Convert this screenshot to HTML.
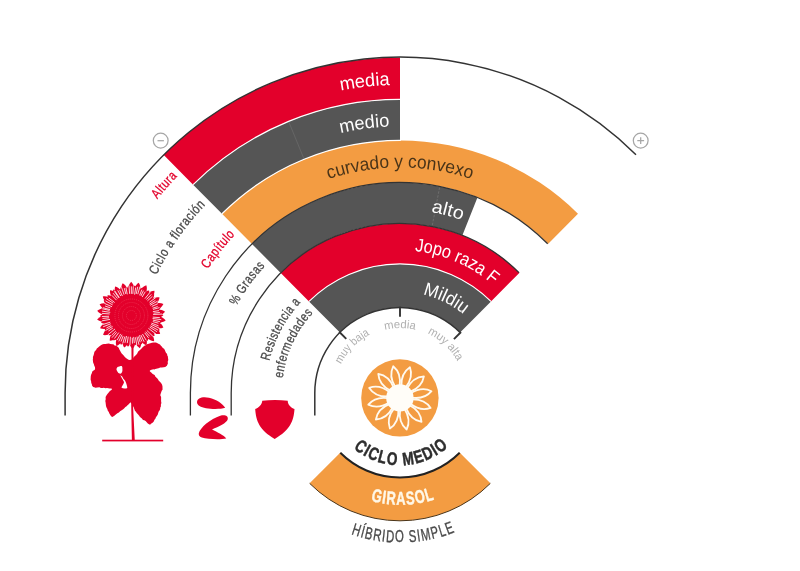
<!DOCTYPE html>
<html lang="es"><head><meta charset="utf-8"><title>Girasol</title>
<style>
html,body{margin:0;padding:0;background:#fff}
body{width:800px;height:571px;overflow:hidden;font-family:"Liberation Sans",sans-serif}
svg{display:block}
</style></head><body>
<svg width="800" height="571" viewBox="0 0 800 571">
<defs>
<path id="t1" d="M340.66 90.57A308.2 308.2 0 0 1 389.78 84.97"/>
<path id="t2" d="M340.46 133.03A266.7 266.7 0 0 1 389.53 126.51"/>
<path id="t3" d="M328.63 179.09A225.5 225.5 0 0 1 471.37 179.09"/>
<path id="t4" d="M431.04 212.15A183.5 183.5 0 0 1 461.86 220.24"/>
<path id="t5" d="M414.67 251.06A142.7 142.7 0 0 1 492.87 284.65"/>
<path id="t6" d="M422.77 294.39A101.2 101.2 0 0 1 463.55 314.24"/>
<path id="t7" d="M157.26 199.22A310.6 310.6 0 0 1 177.66 176.12"/>
<path id="t8" d="M156.46 275.27A270.5 270.5 0 0 1 205.75 204.75"/>
<path id="t9" d="M207.85 269.17A228.6 228.6 0 0 1 235.34 234.43"/>
<path id="t10" d="M236.48 306.05A185.2 185.2 0 0 1 265.32 265.87"/>
<path id="t11" d="M269.38 360.92A134.5 134.5 0 0 1 300.84 302.13"/>
<path id="t12" d="M282.73 378.19A118.2 118.2 0 0 1 313.18 312.79"/>
<path id="t13" d="M340.95 364.2A65.7 65.7 0 0 1 369.76 334.67"/>
<path id="t14" d="M384.83 329.8A65 65 0 0 1 415.17 329.8"/>
<path id="t15" d="M427.45 333.31A65.7 65.7 0 0 1 457.46 361.15"/>
<path id="t16" d="M353.53 448.39A72.3 72.3 0 0 0 448.95 446.21"/>
<path id="t17" d="M351.08 534.27A149.5 149.5 0 0 0 455.74 531.72"/>
<path id="t18" d="M370.88 500.94A111.8 111.8 0 0 0 435.17 499.13"/>
</defs>
<rect width="800" height="571" fill="#fff"/>
<path d="M163.52 154.87A335.6 335.6 0 0 1 400 57.4L400 99.4A293.6 293.6 0 0 0 193.12 184.67Z" fill="#e3002b" />
<path d="M193.12 184.67A293.6 293.6 0 0 1 400 99.4L400 140.4A252.6 252.6 0 0 0 222.01 213.76Z" fill="#555555" />
<path d="M222.01 213.76A252.6 252.6 0 0 1 577.99 213.76L548.26 243.71A210.4 210.4 0 0 0 251.74 243.71Z" fill="#f39c42" />
<path d="M251.74 243.71A210.4 210.4 0 0 1 477.45 197.38L462.43 235.31A169.6 169.6 0 0 0 280.49 272.66Z" fill="#555555" />
<path d="M280.49 272.66A169.6 169.6 0 0 1 519.51 272.66L490.97 301.39A129.1 129.1 0 0 0 309.03 301.39Z" fill="#e3002b" />
<path d="M309.03 301.39A129.1 129.1 0 0 1 490.97 301.39L460.32 332.26A85.6 85.6 0 0 0 339.68 332.26Z" fill="#555555" />
<line x1="288.97" y1="122.28" x2="303.77" y2="158.37" stroke="#6a6a6a" stroke-width="0.8" />
<line x1="439.6" y1="187.38" x2="432.26" y2="225.48" stroke="#787878" stroke-width="0.7" stroke-dasharray="2.5 1.5"/>
<path d="M193.12 184.67A293.6 293.6 0 0 1 401.02 99.4" fill="none" stroke="#ffffff" stroke-width="1.2" />
<path d="M222.01 213.76A252.6 252.6 0 0 1 400.88 140.4" fill="none" stroke="#ffffff" stroke-width="1.2" />
<path d="M309.03 301.39A129.1 129.1 0 0 1 490.97 301.39" fill="none" stroke="#ffffff" stroke-width="1.1" />
<path d="M65.1 415.6L65.1 393.0A334.9 335.90000000000003 0 0 1 635.98 154.66" fill="none" stroke="#333333" stroke-width="1.5"/>
<path d="M190.4 415.6L190.4 393.0A209.6 210.4 0 0 1 547.69 243.71" fill="none" stroke="#333333" stroke-width="1.3"/>
<path d="M231.2 415.6L231.2 393.0A168.8 169.6 0 0 1 518.94 272.66" fill="none" stroke="#333333" stroke-width="1.3"/>
<path d="M314.8 415.6L314.8 393.0A85.2 85.39999999999999 0 0 1 460.03 332.4" fill="none" stroke="#333333" stroke-width="1.5"/>
<line x1="339.19" y1="331.76" x2="346.24" y2="338.86" stroke="#333333" stroke-width="1.9" />
<line x1="400" y1="306.7" x2="400" y2="316.7" stroke="#333333" stroke-width="1.9" />
<line x1="461.02" y1="331.98" x2="453.95" y2="339.05" stroke="#333333" stroke-width="1.9" />
<text font-family='"Liberation Sans", sans-serif' font-size="18.4" font-weight="normal" fill="#ffffff"><textPath href="#t1" startOffset="0" textLength="49.49" lengthAdjust="spacingAndGlyphs">media</textPath></text>
<text font-family='"Liberation Sans", sans-serif' font-size="18.4" font-weight="normal" fill="#ffffff"><textPath href="#t2" startOffset="0" textLength="49.57" lengthAdjust="spacingAndGlyphs">medio</textPath></text>
<text font-family='"Liberation Sans", sans-serif' font-size="18.4" font-weight="normal" fill="#4a3418"><textPath href="#t3" startOffset="0" textLength="145.23" lengthAdjust="spacingAndGlyphs">curvado y convexo</textPath></text>
<text font-family='"Liberation Sans", sans-serif' font-size="18.4" font-weight="normal" fill="#ffffff"><textPath href="#t4" startOffset="0" textLength="31.9" lengthAdjust="spacingAndGlyphs">alto</textPath></text>
<text font-family='"Liberation Sans", sans-serif' font-size="18.4" font-weight="normal" fill="#ffffff"><textPath href="#t5" startOffset="0" textLength="86.42" lengthAdjust="spacingAndGlyphs">Jopo raza F</textPath></text>
<text font-family='"Liberation Sans", sans-serif' font-size="18.4" font-weight="normal" fill="#ffffff"><textPath href="#t6" startOffset="0" textLength="45.75" lengthAdjust="spacingAndGlyphs">Mildiu</textPath></text>
<text font-family='"Liberation Sans", sans-serif' font-size="13.5" font-weight="normal" fill="#e3002b" letter-spacing="0.6" stroke="#e3002b" stroke-width="0.3"><textPath href="#t7" startOffset="0" textLength="30.84" lengthAdjust="spacingAndGlyphs">Altura</textPath></text>
<text font-family='"Liberation Sans", sans-serif' font-size="13.5" font-weight="normal" fill="#4a4a4a" letter-spacing="0.6" stroke="#4a4a4a" stroke-width="0.3"><textPath href="#t8" startOffset="0" textLength="86.4" lengthAdjust="spacingAndGlyphs">Ciclo a floración</textPath></text>
<text font-family='"Liberation Sans", sans-serif' font-size="13.5" font-weight="normal" fill="#e3002b" letter-spacing="0.6" stroke="#e3002b" stroke-width="0.3"><textPath href="#t9" startOffset="0" textLength="44.37" lengthAdjust="spacingAndGlyphs">Capítulo</textPath></text>
<text font-family='"Liberation Sans", sans-serif' font-size="13.5" font-weight="normal" fill="#4a4a4a" letter-spacing="0.6" stroke="#4a4a4a" stroke-width="0.3"><textPath href="#t10" startOffset="0" textLength="49.61" lengthAdjust="spacingAndGlyphs">% Grasas</textPath></text>
<text font-family='"Liberation Sans", sans-serif' font-size="13.5" font-weight="normal" fill="#4a4a4a" letter-spacing="0.6" stroke="#4a4a4a" stroke-width="0.3"><textPath href="#t11" startOffset="0" textLength="67.38" lengthAdjust="spacingAndGlyphs">Resistencia a</textPath></text>
<text font-family='"Liberation Sans", sans-serif' font-size="13.5" font-weight="normal" fill="#4a4a4a" letter-spacing="0.6" stroke="#4a4a4a" stroke-width="0.3"><textPath href="#t12" startOffset="0" textLength="73.3" lengthAdjust="spacingAndGlyphs">enfermedades</textPath></text>
<text font-family='"Liberation Sans", sans-serif' font-size="11.5" font-weight="normal" fill="#b0b0b0"><textPath href="#t13" startOffset="0" textLength="41.97" lengthAdjust="spacingAndGlyphs">muy baja</textPath></text>
<text font-family='"Liberation Sans", sans-serif' font-size="11.5" font-weight="normal" fill="#b0b0b0"><textPath href="#t14" startOffset="0" textLength="30.63" lengthAdjust="spacingAndGlyphs">media</textPath></text>
<text font-family='"Liberation Sans", sans-serif' font-size="11.5" font-weight="normal" fill="#b0b0b0"><textPath href="#t15" startOffset="0" textLength="41.62" lengthAdjust="spacingAndGlyphs">muy alta</textPath></text>
<circle cx="160.7" cy="140.6" r="7.4" fill="#fff" stroke="#a6a6a6" stroke-width="1.25"/>
<line x1="157.5" y1="140.7" x2="163.9" y2="140.7" stroke="#a6a6a6" stroke-width="1.25"/>
<circle cx="640.7" cy="140.6" r="7.4" fill="#fff" stroke="#a6a6a6" stroke-width="1.25"/>
<path d="M637.3 140.7H644.1M640.7 137.3V144.1" stroke="#a6a6a6" stroke-width="1.25" fill="none"/>
<circle cx="399.9" cy="397.9" r="38.7" fill="#f39c42"/>
<path transform="rotate(18 399.9 397.9)" d="M399.9 365.6C404.1 370.9 404.9 378.9 402.1 386.4L397.7 386.4C394.9 378.9 395.7 370.9 399.9 365.6Z" fill="#f39c42" stroke="#fffaf0" stroke-width="1.8" stroke-linejoin="round"/>
<path transform="rotate(48 399.9 397.9)" d="M399.9 365.6C404.1 370.9 404.9 378.9 402.1 386.4L397.7 386.4C394.9 378.9 395.7 370.9 399.9 365.6Z" fill="#f39c42" stroke="#fffaf0" stroke-width="1.8" stroke-linejoin="round"/>
<path transform="rotate(78 399.9 397.9)" d="M399.9 365.6C404.1 370.9 404.9 378.9 402.1 386.4L397.7 386.4C394.9 378.9 395.7 370.9 399.9 365.6Z" fill="#f39c42" stroke="#fffaf0" stroke-width="1.8" stroke-linejoin="round"/>
<path transform="rotate(108 399.9 397.9)" d="M399.9 365.6C404.1 370.9 404.9 378.9 402.1 386.4L397.7 386.4C394.9 378.9 395.7 370.9 399.9 365.6Z" fill="#f39c42" stroke="#fffaf0" stroke-width="1.8" stroke-linejoin="round"/>
<path transform="rotate(138 399.9 397.9)" d="M399.9 365.6C404.1 370.9 404.9 378.9 402.1 386.4L397.7 386.4C394.9 378.9 395.7 370.9 399.9 365.6Z" fill="#f39c42" stroke="#fffaf0" stroke-width="1.8" stroke-linejoin="round"/>
<path transform="rotate(168 399.9 397.9)" d="M399.9 365.6C404.1 370.9 404.9 378.9 402.1 386.4L397.7 386.4C394.9 378.9 395.7 370.9 399.9 365.6Z" fill="#f39c42" stroke="#fffaf0" stroke-width="1.8" stroke-linejoin="round"/>
<path transform="rotate(198 399.9 397.9)" d="M399.9 365.6C404.1 370.9 404.9 378.9 402.1 386.4L397.7 386.4C394.9 378.9 395.7 370.9 399.9 365.6Z" fill="#f39c42" stroke="#fffaf0" stroke-width="1.8" stroke-linejoin="round"/>
<path transform="rotate(228 399.9 397.9)" d="M399.9 365.6C404.1 370.9 404.9 378.9 402.1 386.4L397.7 386.4C394.9 378.9 395.7 370.9 399.9 365.6Z" fill="#f39c42" stroke="#fffaf0" stroke-width="1.8" stroke-linejoin="round"/>
<path transform="rotate(258 399.9 397.9)" d="M399.9 365.6C404.1 370.9 404.9 378.9 402.1 386.4L397.7 386.4C394.9 378.9 395.7 370.9 399.9 365.6Z" fill="#f39c42" stroke="#fffaf0" stroke-width="1.8" stroke-linejoin="round"/>
<path transform="rotate(288 399.9 397.9)" d="M399.9 365.6C404.1 370.9 404.9 378.9 402.1 386.4L397.7 386.4C394.9 378.9 395.7 370.9 399.9 365.6Z" fill="#f39c42" stroke="#fffaf0" stroke-width="1.8" stroke-linejoin="round"/>
<path transform="rotate(318 399.9 397.9)" d="M399.9 365.6C404.1 370.9 404.9 378.9 402.1 386.4L397.7 386.4C394.9 378.9 395.7 370.9 399.9 365.6Z" fill="#f39c42" stroke="#fffaf0" stroke-width="1.8" stroke-linejoin="round"/>
<path transform="rotate(348 399.9 397.9)" d="M399.9 365.6C404.1 370.9 404.9 378.9 402.1 386.4L397.7 386.4C394.9 378.9 395.7 370.9 399.9 365.6Z" fill="#f39c42" stroke="#fffaf0" stroke-width="1.8" stroke-linejoin="round"/>
<circle cx="399.9" cy="397.9" r="13.7" fill="#fffdf8"/>
<path d="M490.37 483.37A127.8 127.8 0 0 1 309.63 483.37L340.46 452.54A84.2 84.2 0 0 0 459.54 452.54Z" fill="#f39c42" />
<path d="M490.37 483.37A127.8 127.8 0 0 1 309.63 483.37" fill="none" stroke="#4a3418" stroke-width="1" />
<path d="M459.68 452.68A84.4 84.4 0 0 1 340.32 452.68" fill="none" stroke="#222" stroke-width="2" />
<text font-family='"Liberation Sans", sans-serif' font-size="18" font-weight="bold" fill="#2e2e2e" letter-spacing="1.6" stroke="#2e2e2e" stroke-width="0.5"><textPath href="#t16" startOffset="0" textLength="104.25" lengthAdjust="spacingAndGlyphs">CICLO MEDIO</textPath></text>
<text font-family='"Liberation Sans", sans-serif' font-size="17" font-weight="normal" fill="#4a4a4a" letter-spacing="1.6" stroke="#4a4a4a" stroke-width="0.35"><textPath href="#t17" startOffset="0" textLength="106.96" lengthAdjust="spacingAndGlyphs">HÍBRIDO SIMPLE</textPath></text>
<text font-family='"Liberation Sans", sans-serif' font-size="18.5" font-weight="bold" fill="#fff8e8" letter-spacing="1.3" stroke="#fff8e8" stroke-width="0.45"><textPath href="#t18" startOffset="0" textLength="65.24" lengthAdjust="spacingAndGlyphs">GIRASOL</textPath></text>
<path d="M197 402.25C197 397.75 203 396.25 209 397.75C216.5 399.25 222.5 403.75 225.2 407.8C221 409.3 212 409.3 206 408.25C200.75 407.2 197 405.25 197 402.25Z" fill="#e3002b"/>
<path d="M198.8 433.3C200 427.75 210.5 418.75 220.25 415.75C224.75 414.55 228.5 415.75 227.75 419.2C226.7 423.25 218.75 426.25 212 429.55C217.25 432.25 224 435.25 226.25 438.55C220.25 439.75 207.5 439.3 201.8 437.5C199.25 436.6 198.5 435.25 198.8 433.3Z" fill="#e3002b"/>
<path d="M262.25 400.75C270.5 399.7 279.5 399.7 287.74 400.75C287.74 404.5 290.74 407.8 294.49 409C293.74 421 289.99 430 274.7 439C259.55 430 255.95 421 255.2 409C258.95 407.8 261.95 404.5 262.25 400.75Z" fill="#e3002b"/>
<g fill="#e3002b"><g transform="translate(0 4.73) scale(1 0.985)"><path transform="rotate(6.22 131.4 315.5)" d="M129.42 298.5C127.77 292.38 128.27 287.62 131.4 284.9C134.53 287.62 135.03 292.38 133.38 298.5Z"/><path transform="rotate(21.37 131.4 315.5)" d="M129.42 298.5C127.77 292.45 128.27 287.74 131.4 285.06C134.53 287.74 135.03 292.45 133.38 298.5Z"/><path transform="rotate(34.76 131.4 315.5)" d="M129.42 298.5C127.77 292.19 128.27 287.27 131.4 284.47C134.53 287.27 135.03 292.19 133.38 298.5Z"/><path transform="rotate(46.69 131.4 315.5)" d="M129.42 298.5C127.77 292.06 128.27 287.05 131.4 284.19C134.53 287.05 135.03 292.06 133.38 298.5Z"/><path transform="rotate(60.46 131.4 315.5)" d="M129.42 298.5C127.77 292.12 128.27 287.17 131.4 284.33C134.53 287.17 135.03 292.12 133.38 298.5Z"/><path transform="rotate(74.43 131.4 315.5)" d="M129.42 298.5C127.77 292.43 128.27 287.71 131.4 285.02C134.53 287.71 135.03 292.43 133.38 298.5Z"/><path transform="rotate(89.7 131.4 315.5)" d="M129.42 298.5C127.77 291.77 128.27 286.54 131.4 283.55C134.53 286.54 135.03 291.77 133.38 298.5Z"/><path transform="rotate(102.34 131.4 315.5)" d="M129.42 298.5C127.77 292.31 128.27 287.5 131.4 284.75C134.53 287.5 135.03 292.31 133.38 298.5Z"/><path transform="rotate(118.2 131.4 315.5)" d="M129.42 298.5C127.77 291.66 128.27 286.34 131.4 283.3C134.53 286.34 135.03 291.66 133.38 298.5Z"/><path transform="rotate(131.85 131.4 315.5)" d="M129.42 298.5C127.77 292.16 128.27 287.23 131.4 284.41C134.53 287.23 135.03 292.16 133.38 298.5Z"/><path transform="rotate(147.29 131.4 315.5)" d="M129.42 298.5C127.77 292.47 128.27 287.79 131.4 285.11C134.53 287.79 135.03 292.47 133.38 298.5Z"/><path transform="rotate(160.66 131.4 315.5)" d="M129.42 298.5C127.77 292.25 128.27 287.4 131.4 284.62C134.53 287.4 135.03 292.25 133.38 298.5Z"/><path transform="rotate(171.65 131.4 315.5)" d="M129.42 298.5C127.77 292.41 128.27 287.67 131.4 284.96C134.53 287.67 135.03 292.41 133.38 298.5Z"/><path transform="rotate(186.16 131.4 315.5)" d="M129.42 298.5C127.77 291.78 128.27 286.55 131.4 283.57C134.53 286.55 135.03 291.78 133.38 298.5Z"/><path transform="rotate(199.49 131.4 315.5)" d="M129.42 298.5C127.77 291.99 128.27 286.93 131.4 284.04C134.53 286.93 135.03 291.99 133.38 298.5Z"/><path transform="rotate(215.17 131.4 315.5)" d="M129.42 298.5C127.77 292.18 128.27 287.26 131.4 284.46C134.53 287.26 135.03 292.18 133.38 298.5Z"/><path transform="rotate(228.65 131.4 315.5)" d="M129.42 298.5C127.77 292.46 128.27 287.76 131.4 285.07C134.53 287.76 135.03 292.46 133.38 298.5Z"/><path transform="rotate(240.55 131.4 315.5)" d="M129.42 298.5C127.77 292.33 128.27 287.53 131.4 284.79C134.53 287.53 135.03 292.33 133.38 298.5Z"/><path transform="rotate(256.88 131.4 315.5)" d="M129.42 298.5C127.77 292.13 128.27 287.18 131.4 284.34C134.53 287.18 135.03 292.13 133.38 298.5Z"/><path transform="rotate(269.26 131.4 315.5)" d="M129.42 298.5C127.77 291.99 128.27 286.92 131.4 284.03C134.53 286.92 135.03 291.99 133.38 298.5Z"/><path transform="rotate(283.66 131.4 315.5)" d="M129.42 298.5C127.77 292.25 128.27 287.38 131.4 284.6C134.53 287.38 135.03 292.25 133.38 298.5Z"/><path transform="rotate(298.87 131.4 315.5)" d="M129.42 298.5C127.77 291.89 128.27 286.74 131.4 283.8C134.53 286.74 135.03 291.89 133.38 298.5Z"/><path transform="rotate(310.51 131.4 315.5)" d="M129.42 298.5C127.77 292 128.27 286.94 131.4 284.05C134.53 286.94 135.03 292 133.38 298.5Z"/><path transform="rotate(325.49 131.4 315.5)" d="M129.42 298.5C127.77 291.73 128.27 286.46 131.4 283.45C134.53 286.46 135.03 291.73 133.38 298.5Z"/><path transform="rotate(340.15 131.4 315.5)" d="M129.42 298.5C127.77 292.26 128.27 287.4 131.4 284.62C134.53 287.4 135.03 292.26 133.38 298.5Z"/><path transform="rotate(355 131.4 315.5)" d="M129.42 298.5C127.77 292.41 128.27 287.67 131.4 284.96C134.53 287.67 135.03 292.41 133.38 298.5Z"/><path transform="rotate(-0.33 131.4 315.5)" d="M129.18 298.5C127.33 290.7 127.89 284.63 131.4 281.16C134.91 284.63 135.47 290.7 133.62 298.5Z"/><path transform="rotate(12.45 131.4 315.5)" d="M129.18 298.5C127.33 290.88 127.89 284.95 131.4 281.57C134.91 284.95 135.47 290.88 133.62 298.5Z"/><path transform="rotate(25.85 131.4 315.5)" d="M129.18 298.5C127.33 290.76 127.89 284.74 131.4 281.3C134.91 284.74 135.47 290.76 133.62 298.5Z"/><path transform="rotate(42.6 131.4 315.5)" d="M129.18 298.5C127.33 290.82 127.89 284.85 131.4 281.44C134.91 284.85 135.47 290.82 133.62 298.5Z"/><path transform="rotate(56.89 131.4 315.5)" d="M129.18 298.5C127.33 291 127.89 285.16 131.4 281.83C134.91 285.16 135.47 291 133.62 298.5Z"/><path transform="rotate(70.01 131.4 315.5)" d="M129.18 298.5C127.33 290.81 127.89 284.83 131.4 281.41C134.91 284.83 135.47 290.81 133.62 298.5Z"/><path transform="rotate(83.4 131.4 315.5)" d="M129.18 298.5C127.33 290.9 127.89 284.99 131.4 281.62C134.91 284.99 135.47 290.9 133.62 298.5Z"/><path transform="rotate(98.28 131.4 315.5)" d="M129.18 298.5C127.33 290.57 127.89 284.41 131.4 280.88C134.91 284.41 135.47 290.57 133.62 298.5Z"/><path transform="rotate(110.67 131.4 315.5)" d="M129.18 298.5C127.33 290.76 127.89 284.74 131.4 281.3C134.91 284.74 135.47 290.76 133.62 298.5Z"/><path transform="rotate(122.86 131.4 315.5)" d="M129.18 298.5C127.33 290.74 127.89 284.7 131.4 281.25C134.91 284.7 135.47 290.74 133.62 298.5Z"/><path transform="rotate(139.05 131.4 315.5)" d="M129.18 298.5C127.33 290.54 127.89 284.35 131.4 280.81C134.91 284.35 135.47 290.54 133.62 298.5Z"/><path transform="rotate(153.6 131.4 315.5)" d="M129.18 298.5C127.33 291.02 127.89 285.2 131.4 281.87C134.91 285.2 135.47 291.02 133.62 298.5Z"/><path transform="rotate(165.7 131.4 315.5)" d="M129.18 298.5C127.33 290.76 127.89 284.74 131.4 281.3C134.91 284.74 135.47 290.76 133.62 298.5Z"/><path transform="rotate(178.09 131.4 315.5)" d="M129.18 298.5C127.33 290.9 127.89 284.99 131.4 281.61C134.91 284.99 135.47 290.9 133.62 298.5Z"/><path transform="rotate(192.52 131.4 315.5)" d="M129.18 298.5C127.33 291.13 127.89 285.4 131.4 282.12C134.91 285.4 135.47 291.13 133.62 298.5Z"/><path transform="rotate(205.93 131.4 315.5)" d="M129.18 298.5C127.33 290.69 127.89 284.62 131.4 281.15C134.91 284.62 135.47 290.69 133.62 298.5Z"/><path transform="rotate(220.06 131.4 315.5)" d="M129.18 298.5C127.33 291.04 127.89 285.24 131.4 281.93C134.91 285.24 135.47 291.04 133.62 298.5Z"/><path transform="rotate(234.95 131.4 315.5)" d="M129.18 298.5C127.33 290.62 127.89 284.49 131.4 280.99C134.91 284.49 135.47 290.62 133.62 298.5Z"/><path transform="rotate(247.55 131.4 315.5)" d="M129.18 298.5C127.33 290.91 127.89 285 131.4 281.63C134.91 285 135.47 290.91 133.62 298.5Z"/><path transform="rotate(263.27 131.4 315.5)" d="M129.18 298.5C127.33 290.61 127.89 284.48 131.4 280.97C134.91 284.48 135.47 290.61 133.62 298.5Z"/><path transform="rotate(278.2 131.4 315.5)" d="M129.18 298.5C127.33 290.63 127.89 284.5 131.4 281C134.91 284.5 135.47 290.63 133.62 298.5Z"/><path transform="rotate(289.88 131.4 315.5)" d="M129.18 298.5C127.33 290.93 127.89 285.04 131.4 281.68C134.91 285.04 135.47 290.93 133.62 298.5Z"/><path transform="rotate(304.05 131.4 315.5)" d="M129.18 298.5C127.33 290.61 127.89 284.48 131.4 280.97C134.91 284.48 135.47 290.61 133.62 298.5Z"/><path transform="rotate(320.29 131.4 315.5)" d="M129.18 298.5C127.33 291.11 127.89 285.36 131.4 282.07C134.91 285.36 135.47 291.11 133.62 298.5Z"/><path transform="rotate(331.01 131.4 315.5)" d="M129.18 298.5C127.33 291.05 127.89 285.26 131.4 281.95C134.91 285.26 135.47 291.05 133.62 298.5Z"/><path transform="rotate(345.09 131.4 315.5)" d="M129.18 298.5C127.33 290.88 127.89 284.96 131.4 281.57C134.91 284.96 135.47 290.88 133.62 298.5Z"/><circle cx="131.4" cy="315.5" r="20.3"/></g><rect x="102.2" y="439.7" width="61" height="1.7"/><path d="M129.2 360.0L128.1 359.5L126.6 358.4L124.8 357.1L124.1 356.1L123.0 354.7L121.7 353.5L120.9 352.3L120.0 350.5L119.4 349.4L118.7 347.8L117.6 346.7L116.2 345.7L114.6 345.4L113.3 344.3L112.3 344.2L110.4 343.9L108.9 343.6L106.9 343.8L105.5 344.1L103.9 344.1L102.1 344.6L100.5 345.4L99.2 346.6L97.8 347.7L96.8 348.6L96.1 350.0L94.8 351.3L94.3 352.3L94.0 353.7L93.5 355.6L92.9 357.0L93.0 358.2L92.8 359.4L93.0 361.4L93.2 362.7L93.9 364.2L94.2 365.4L95.0 367.2L95.1 368.5L94.8 369.8L93.2 370.8L92.3 371.6L91.8 373.3L91.1 374.7L90.8 376.1L90.7 377.6L90.6 379.4L91.2 381.7L91.2 382.7L92.0 384.7L92.1 385.8L93.2 387.1L94.2 387.2L95.5 387.7L97.2 387.4L99.4 387.3L100.9 387.9L102.5 387.9L103.8 387.8L105.5 388.2L107.0 388.1L109.6 388.5L111.5 388.5L112.0 389.3L111.4 390.0L109.9 391.0L108.3 392.9L107.4 394.1L106.4 395.4L105.6 397.1L105.7 399.2L105.3 400.9L105.6 402.5L105.8 404.3L106.0 406.0L106.5 407.5L107.3 409.1L107.8 410.8L108.8 411.9L109.1 413.1L110.1 414.8L111.1 416.3L112.3 416.9L113.2 416.4L114.7 415.6L115.8 414.4L117.4 413.2L118.9 412.4L120.1 411.2L121.3 410.4L123.2 409.2L124.3 408.3L125.4 406.9L126.6 406.2L127.5 405.2L128.7 404.2L129.8 403.1L130.3 402.2L132.4 404.6L132.8 405.9L133.6 407.1L134.3 409.0L134.9 410.7L135.9 411.8L136.7 412.9L137.9 414.3L139.0 415.6L139.8 416.8L140.6 417.5L141.9 418.6L143.0 419.9L144.3 420.3L145.6 421.1L146.5 422.0L147.8 423.6L149.0 424.3L150.1 424.7L150.9 423.8L152.2 422.9L153.6 421.7L154.5 419.8L155.5 418.4L155.8 417.4L157.0 415.7L157.7 414.7L158.2 413.1L158.7 411.6L159.7 410.3L160.1 409.3L160.3 407.6L160.9 406.4L160.9 404.6L161.4 402.9L161.1 401.2L161.1 399.7L161.1 398.0L161.1 396.9L160.3 395.3L160.5 394.3L161.2 392.3L161.7 390.8L162.6 389.4L162.5 388.0L162.5 386.5L162.1 384.8L161.4 383.5L160.2 382.1L158.8 380.7L158.1 379.6L157.4 378.5L156.0 377.2L155.3 376.4L154.6 375.1L152.7 374.0L151.5 372.7L150.3 371.7L149.6 371.0L150.6 369.9L153.4 369.3L154.2 369.4L155.4 369.1L157.3 368.5L158.5 368.3L160.2 367.6L161.8 367.5L163.7 367.2L165.2 367.0L166.9 365.8L167.2 365.1L167.9 363.4L167.7 361.7L168.3 360.1L168.0 357.9L167.9 356.6L167.4 355.7L167.0 353.8L166.1 353.0L165.4 351.6L164.8 350.1L164.1 348.8L162.8 347.9L161.8 346.6L161.1 346.0L160.0 344.6L158.4 343.7L157.1 343.0L155.8 342.4L153.6 342.5L151.9 342.7L150.3 343.3L148.7 343.7L147.0 344.3L145.6 345.2L144.4 345.8L142.9 346.9L142.0 347.9L140.8 349.3L139.4 350.4L138.4 351.3L137.7 352.5L137.1 353.8L136.0 355.1L134.9 356.1L133.6 357.3L132.8 359.0L131.1 359.7Z"/><path d="M131.4 336L133.6 336L133.3 380L133.0 405L134.8 441L131.9 441L131.2 405L131.6 380Z"/></g>
<g fill="#fff"><path d="M116.9 368.0L117.5 366.9L119.2 366.5L120.7 366.0L121.7 366.1L122.3 367.0L122.4 368.9L122.4 370.8L122.1 372.0L121.3 373.2L120.4 373.8L119.6 373.6L118.4 373.0L117.5 371.7L116.7 370.2L116.4 368.9Z"/><path d="M120.5 375.1L121.2 375.7L122.4 376.8L123.2 378.4L124.1 379.4L125.1 380.7L125.7 382.0L126.2 383.2L126.7 384.9L127.0 386.1L127.3 388.0L126.2 388.6L124.4 388.4L122.8 388.2L121.4 387.6L121.9 386.4L122.8 384.9L123.5 383.7L124.1 382.0L123.4 381.1L123.0 380.1L122.3 378.9L121.5 377.4L120.7 375.9Z"/></g>
<path d="M129.64 293.87L128.96 285.48M131.37 293.87L131.36 286.38M132.82 293.91L133.31 286.32M134.61 294.64L135.7 287.54M136.15 293.99L137.75 286.74M137.74 294.16L140.02 286.48M139.62 295.29L141.91 289.65M140.89 295.96L143.47 290.64M142.17 297.04L145.29 291.68M144.97 298.6L150.22 292.07M146.47 299.54L151.35 294.37M147.46 300.84L152.41 296.33M149.51 302.19L155.71 297.64M149.7 303.99L155.41 300.4M150.12 305.3L157.73 301.14M151.81 306.42L157.79 303.76M152.56 308.27L157.67 306.52M153.02 309.42L159.49 307.6M152.87 311.68L158.97 310.6M153.58 313.15L159.84 312.48M153.11 314.49L162.06 314.08M152.79 317.12L159.86 317.65M152.56 318.47L161.29 319.69M152.92 320.12L159.87 321.61M152.78 321.58L158.49 323.2M151.41 323.12L158.51 325.82M151.07 324.42L159.3 328.15M150.37 325.87L158.03 330.05M149.73 327.14L156.92 331.71M148.42 328.33L155.83 333.92M146.83 330.44L152.88 336.3M145.59 331.66L149.73 336.38M144.69 332.84L148.59 337.93M142.45 333.99L146.19 340.25M140.86 334.99L144.14 341.74M139.32 335.23L141.79 341.39M138.32 336.45L140.23 342.24M136.93 336.74L139 344.72M135.42 337.34L136.83 345.01M133.68 336.9L134.33 343.04M132.25 337.7L132.48 343.57M130.37 336.79L129.96 345.28M128.22 336.63L127.25 343.1M126.56 336.02L124.95 342.83M124.85 336.61L122.74 343.42M123.17 336.12L121 341.54M122.03 334.72L118.79 341.37M120.7 333.9L117.03 340.21M118.8 332.62L114.44 338.54M116.64 332.33L111.94 337.69M115.89 330.95L111.55 335.26M115.02 328.95L107.95 334.75M112.82 328.09L108.44 331.05M112.5 326.46L105.56 330.49M111.24 325.56L106.4 327.97M110.78 323.75L103.14 326.8M110.24 322.18L102.66 324.57M110 319.38L102.04 320.82M109.09 317.79L102.5 318.46M108.99 316.26L101.9 316.5M109.66 313.95L101.93 313.39M110.24 312.34L102.02 311.11M109.55 310.45L102.21 308.76M109.96 309.62L102.94 307.7M110.38 307.92L105.06 306M112 306.76L104.48 303.37M112.66 304.92L105.47 300.85M113.15 303.22L106.17 298.52M114.64 302.53L108.83 298.03M116.5 300.14L111.84 295.34M117.48 298.52L113.1 293.18M118.99 297.94L114.38 291.41M119.32 297.55L114.7 290.69M120.8 296.01L117.72 290.36M122.4 296.04L119.71 290.21M124.07 294.66L121.46 287.26M125.81 294L124.3 288.18M127.26 294.33L125.98 287.81" stroke="#fff" stroke-width="0.95" stroke-opacity="0.85" fill="none"/>
<circle cx="131.4" cy="315.5" r="5" fill="none" stroke="#f2506a" stroke-width="0.5" stroke-dasharray="1 1"/>
<circle cx="131.4" cy="315.5" r="9" fill="none" stroke="#f2506a" stroke-width="0.5" stroke-dasharray="1 1"/>
<circle cx="131.4" cy="315.5" r="13" fill="none" stroke="#f2506a" stroke-width="0.5" stroke-dasharray="1 1"/>
<circle cx="131.4" cy="315.5" r="16.5" fill="none" stroke="#f2506a" stroke-width="0.5" stroke-dasharray="1 1"/>
</svg>
</body></html>
